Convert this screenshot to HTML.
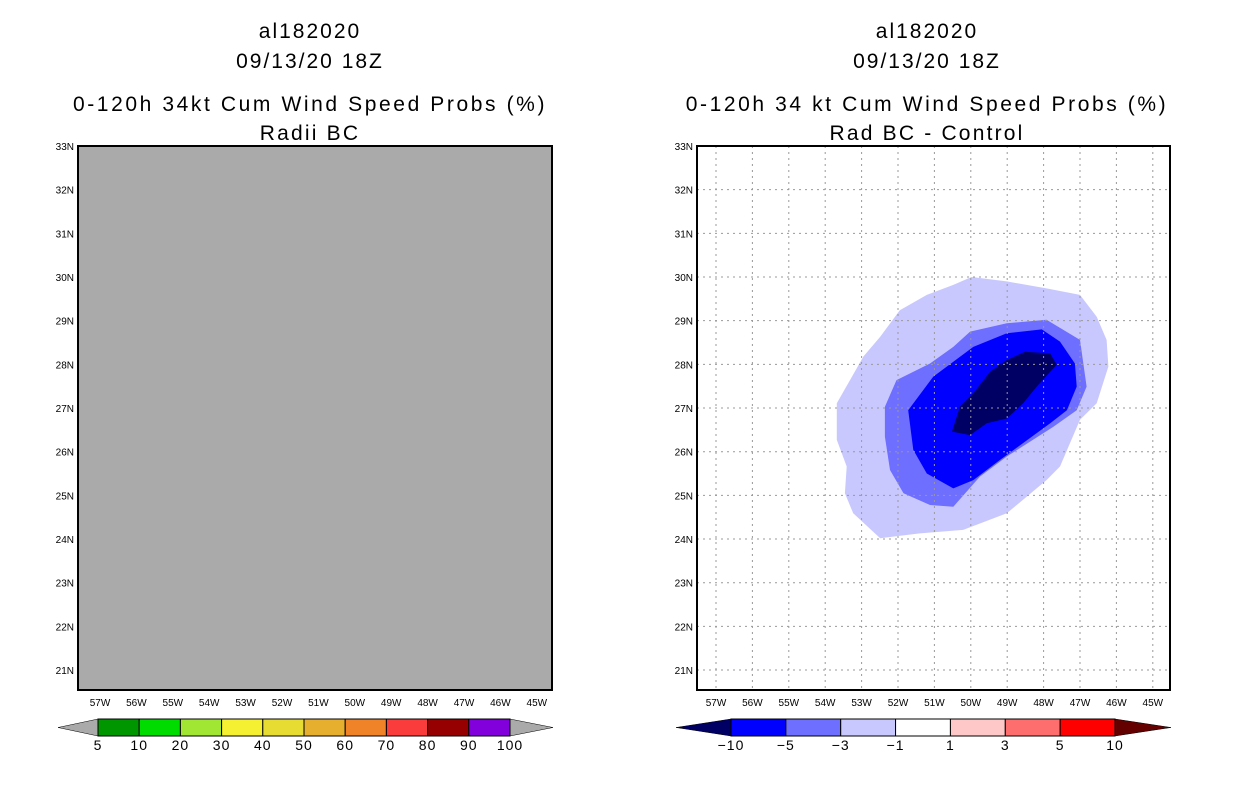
<!DOCTYPE html>
<html><head><meta charset="utf-8"><style>
body{margin:0;background:#fff;width:1236px;height:800px;overflow:hidden}
svg text{font-family:"Liberation Sans",sans-serif;fill:#000}
</style></head><body>
<svg id="s" width="1236" height="800" viewBox="0 0 1236 800"></svg>
<script>
const lonTicks=[57,56,55,54,53,52,51,50,49,48,47,46,45];
const latTicks=[33,32,31,30,29,28,27,26,25,24,23,22,21];
const probLevels=["5","10","20","30","40","50","60","70","80","90","100"];
const probColors=["#009600","#00dc00","#a0e632","#f5f032","#e6dc32","#e6af2d","#f08228","#fa3c3c","#960000","#8200dc"];
const diffLevels=["-10","-5","-3","-1","1","3","5","10"];
const diffColors=["#0000ff","#6e6eff","#c8c8ff","#ffffff","#ffc8c8","#ff6e6e","#ff0000"];
const diffLow="#000064", diffHigh="#640000";
const cLon1=[49.98,49.01,47.92,47.0,46.54,46.27,46.22,46.54,47.0,47.55,47.92,49.01,50.21,51.40,52.49,53.23,53.46,53.41,53.68,53.68,53.32,52.95,52.49,51.95,51.21,50.48];
const cLat1=[30.0,29.9,29.74,29.59,29.09,28.56,27.95,27.11,26.73,25.66,25.35,24.59,24.21,24.13,24.02,24.59,25.05,25.66,26.27,27.11,27.64,28.18,28.63,29.24,29.59,29.82];
const cLon3=[50.02,49.01,47.92,47.0,46.82,47.09,47.73,49.01,49.75,50.48,51.12,51.85,52.22,52.36,52.36,52.04,51.12,50.48];
const cLat3=[28.75,28.94,29.02,28.56,27.49,26.95,26.57,25.89,25.43,24.74,24.78,25.05,25.58,26.34,27.03,27.64,28.02,28.40];
const cLon5=[49.93,49.01,48.05,47.55,47.14,47.09,47.36,47.82,49.20,49.93,50.48,51.21,51.58,51.72,51.03];
const cLat5=[28.40,28.71,28.80,28.52,28.02,27.49,26.95,26.65,25.81,25.35,25.16,25.50,26.04,26.95,27.72];
const cLon10=[48.51,47.82,47.64,48.19,48.56,49.01,49.56,50.02,50.52,50.30,49.93,49.47,49.01];
const cLat10=[28.29,28.25,27.99,27.49,27.11,26.76,26.65,26.38,26.46,27.03,27.34,27.83,28.10];

const S=document.getElementById('s');const NS="http://www.w3.org/2000/svg";
function mk(t,a,p){const e=document.createElementNS(NS,t);for(const k in a)e.setAttribute(k,a[k]);(p||S).appendChild(e);return e;}
function txt(x,y,s,sz,p){const e=mk('text',{x:x,y:y,'font-size':sz,'text-anchor':'middle'},p);e.textContent=s;return e;}

function panel(x0,x1,lon57x,title3,title4,cx,gray,name){
  const g=mk('g',{});
  
  
  const y0=146,y1=690;
  const X=lon=>lon57x+(57-lon)*36.4;
  const Y=lat=>146+(33-lat)*43.67;
  const titles=[["al182020",38,2],["09/13/20 18Z",68,2],[title3,111,2.6],[title4,140,2.2]];
  titles.forEach((t,i)=>{const e=txt(cx,t[1],t[0],21,g);e.setAttribute('letter-spacing',t[2]);
    });
  const bg=mk('rect',{x:x0,y:y0,width:x1-x0,height:y1-y0,fill:gray?'#aaaaaa':'#ffffff'},g);
  
  if(!gray){
    const layers=[[cLon1,cLat1,'#c8c8ff'],[cLon3,cLat3,'#6e6eff'],[cLon5,cLat5,'#0000ff'],[cLon10,cLat10,'#000064']];
    layers.forEach((L,i)=>{const pts=L[0].map((lo,j)=>X(lo).toFixed(1)+','+Y(L[1][j]).toFixed(1)).join(' ');
      const p=mk('polygon',{points:pts,fill:L[2]},g);
      
      });
    lonTicks.forEach(l=>mk('line',{x1:X(l),x2:X(l),y1:y0,y2:y1,stroke:'#999',"stroke-dasharray":'2,4','stroke-width':1},g));
    latTicks.forEach(l=>mk('line',{x1:x0,x2:x1,y1:Y(l),y2:Y(l),stroke:'#999',"stroke-dasharray":'2,4','stroke-width':1},g));
  }
  const fr=mk('rect',{x:x0,y:y0,width:x1-x0,height:y1-y0,fill:'none',stroke:'#000','stroke-width':2},g);
  
  lonTicks.forEach(l=>{const e=txt(X(l),706,l+'W',10,g);});
  latTicks.forEach(l=>{const e=txt(x0-4,Y(l)+4,l+'N',10,g);e.setAttribute('text-anchor','end');});
}
panel(78,552,100,"0-120h 34kt Cum Wind Speed Probs (%)","Radii BC",310,true,'left-panel');
panel(697,1170,716,"0-120h 34 kt Cum Wind Speed Probs (%)","Rad BC - Control",927,false,'right-panel');

function colorbar(tx0,bx0,bx1,tx1,colors,lowC,highC,labels,name){
  const g=mk('g',{});
  
  
  const y0=719,y1=736,ym=727.5;
  mk('polygon',{points:`${tx0},${ym} ${bx0},${y0} ${bx0},${y1}`,fill:lowC,stroke:'#000','stroke-width':0.5},g);
  mk('polygon',{points:`${tx1},${ym} ${bx1},${y0} ${bx1},${y1}`,fill:highC,stroke:'#000','stroke-width':0.5},g);
  const w=(bx1-bx0)/colors.length;
  colors.forEach((c,i)=>{const r=mk('rect',{x:bx0+i*w,y:y0,width:w,height:y1-y0,fill:c,stroke:'#000','stroke-width':1},g);
    });
  labels.forEach((l,i)=>{const e=txt(bx0+i*w,750,l.replace('-','\u2212'),14,g);e.setAttribute('letter-spacing','1');
    });
}
colorbar(58,98,510,553,probColors,'#aaaaaa','#aaaaaa',probLevels,'prob-colorbar');
colorbar(676,731,1115,1171,diffColors,diffLow,diffHigh,diffLevels,'diff-colorbar');
</script>
</body></html>
